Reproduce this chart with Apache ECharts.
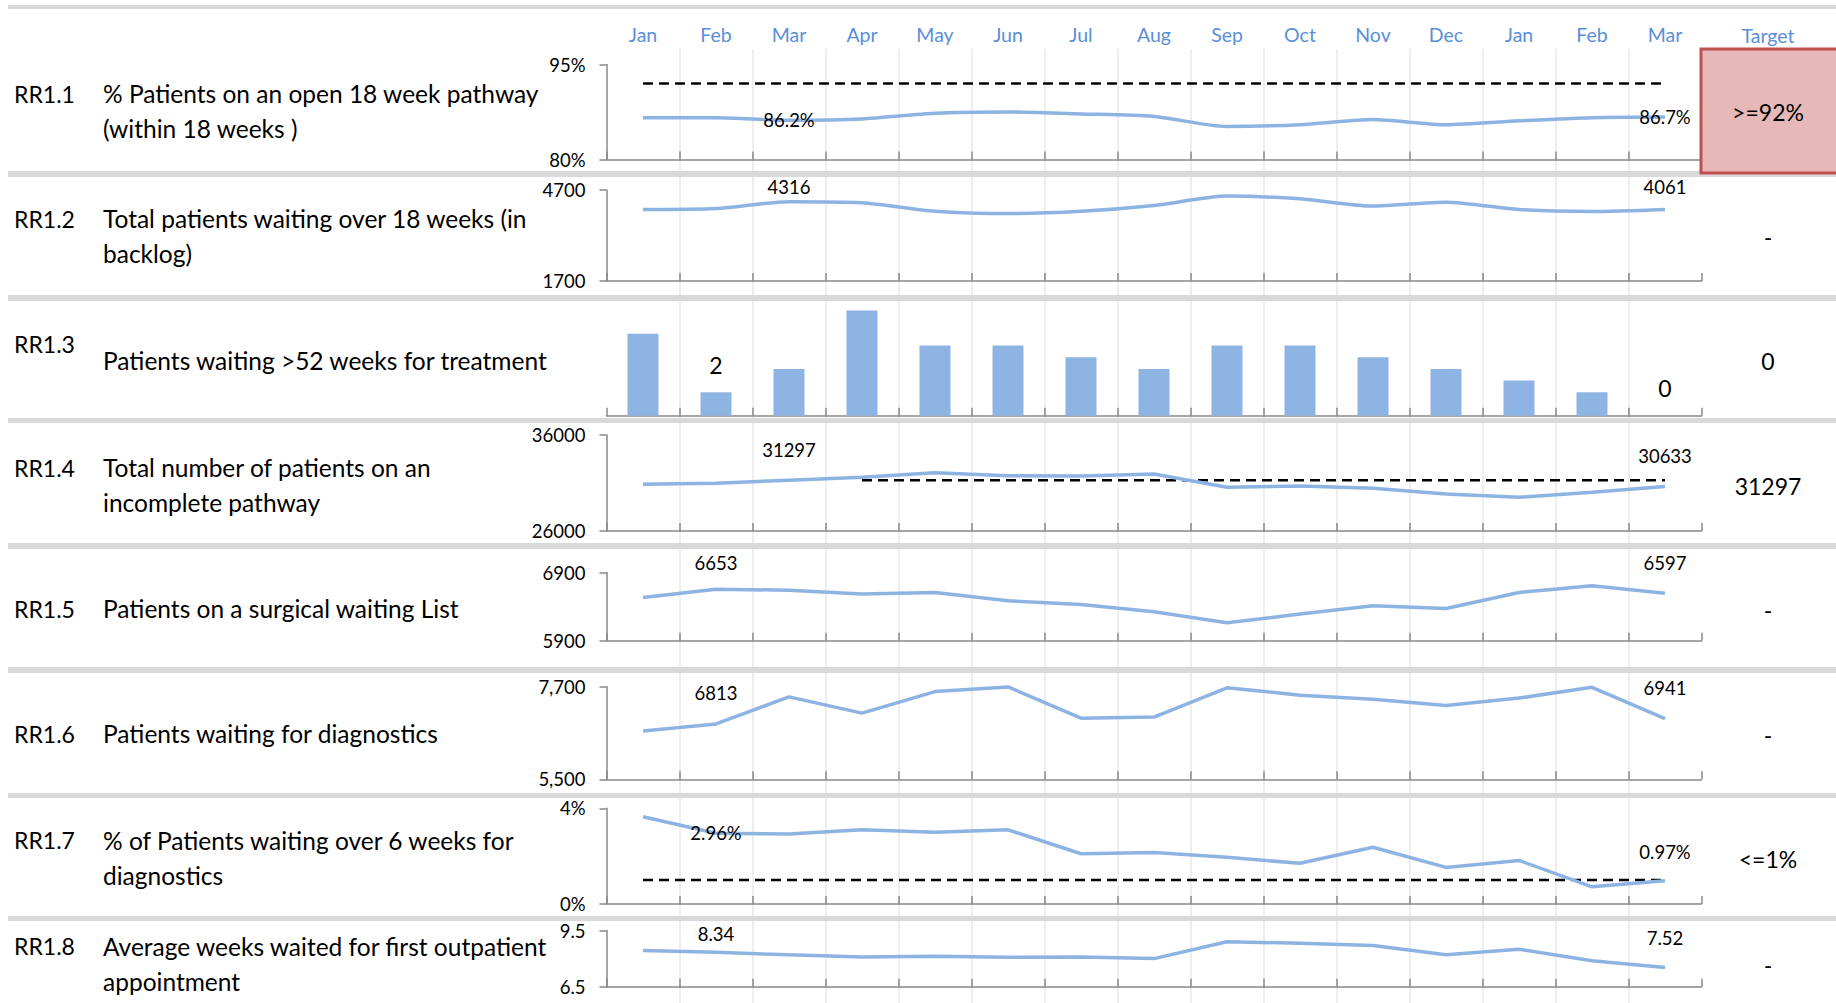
<!DOCTYPE html>
<html>
<head>
<meta charset="utf-8">
<title>Referral to treatment dashboard</title>
<script src="https://cdn.jsdelivr.net/npm/echarts@6/dist/echarts.min.js"></script>
<style>
  html, body { margin: 0; padding: 0; background: #ffffff; }
  #main { width: 1836px; height: 1003px; }
</style>
</head>
<body>
<div id="main"></div>
<script>
// ---- data ----
const months = ['Jan', 'Feb', 'Mar', 'Apr', 'May', 'Jun', 'Jul', 'Aug', 'Sep', 'Oct', 'Nov', 'Dec', 'Jan', 'Feb', 'Mar'];

const rowCodes = ['RR1.1', 'RR1.2', 'RR1.3', 'RR1.4', 'RR1.5', 'RR1.6', 'RR1.7', 'RR1.8'];
const rowTitles = [
  ['% Patients on an open 18 week pathway', '(within 18 weeks )'],
  ['Total patients waiting over 18 weeks (in', 'backlog)'],
  ['Patients waiting >52 weeks for treatment'],
  ['Total number of patients on an', 'incomplete pathway'],
  ['Patients on a surgical waiting List'],
  ['Patients waiting for diagnostics'],
  ['% of Patients waiting over 6 weeks for', 'diagnostics'],
  ['Average weeks waited for first outpatient', 'appointment']
];
const targetTexts = ['>=92%', '-', '0', '31297', '-', '-', '<=1%', '-'];

// RR1.1 % within 18 weeks (percent)
const rr11 = [86.6, 86.6, 86.2, 86.4, 87.3, 87.5, 87.2, 86.8, 85.2, 85.5, 86.3, 85.5, 86.1, 86.6, 86.7];
const rr11Target = [92, 92, 92, 92, 92, 92, 92, 92, 92, 92, 92, 92, 92, 92, 92];
const rr11Ticks = [80, 95];

// RR1.2 backlog over 18 weeks
const rr12 = [4056, 4090, 4316, 4280, 4000, 3925, 4000, 4190, 4500, 4410, 4170, 4300, 4055, 3990, 4061];
const rr12Ticks = [1700, 4700];

// RR1.3 waiting > 52 weeks
const rr13 = [7, 2, 4, 9, 6, 6, 5, 4, 6, 6, 5, 4, 3, 2, 0];
const rr13Range = [0, 10];

// RR1.4 incomplete pathway
const rr14 = [30860, 30965, 31297, 31590, 32075, 31765, 31730, 31935, 30550, 30690, 30445, 29855, 29505, 30030, 30633];
const rr14Target = [null, null, null, 31297, 31297, 31297, 31297, 31297, 31297, 31297, 31297, 31297, 31297, 31297, 31297];
const rr14Ticks = [26000, 36000];

// RR1.5 surgical waiting list
const rr15 = [6534, 6653, 6641, 6583, 6607, 6485, 6432, 6324, 6163, 6290, 6412, 6373, 6607, 6705, 6597];
const rr15Ticks = [5900, 6900];

// RR1.6 waiting for diagnostics
const rr16 = [6647, 6813, 7455, 7068, 7580, 7690, 6950, 6975, 7670, 7495, 7400, 7250, 7425, 7680, 6941];
const rr16Ticks = [5500, 7700];

// RR1.7 % waiting over 6 weeks for diagnostics (percent)
const rr17 = [3.65, 2.96, 2.93, 3.1, 3.0, 3.1, 2.1, 2.15, 1.95, 1.7, 2.37, 1.53, 1.82, 0.72, 0.97];
const rr17Target = [1, 1, 1, 1, 1, 1, 1, 1, 1, 1, 1, 1, 1, 1, 1];
const rr17Ticks = [0, 4];

// RR1.8 average weeks waited for first outpatient appointment
const rr18 = [8.43, 8.34, 8.2, 8.08, 8.12, 8.07, 8.09, 8.0, 8.9, 8.82, 8.7, 8.2, 8.5, 7.88, 7.52];
const rr18Ticks = [6.5, 9.5];

// ---- layout & style ----
const FONT = 'Lato';
const LINE_BLUE = '#8db3e2';
const BAR_BLUE = '#8eb4e3';
const AXIS_GREY = '#888888';
const BAND_GREY = '#d9d9d9';
const HEADER_BLUE = '#5a8fd8';
const PLOT_LEFT = 606.5;
const PLOT_WIDTH = 1095;

// plot band of each row, and the vertical middle of its text cell
const rowLayout = [
  { top: 64.5,  height: 95,   mid: 111 },
  { top: 190,   height: 91,   mid: 236 },
  { top: 298.7, height: 117,  mid: 360 },
  { top: 435,   height: 96,   mid: 485 },
  { top: 572.5, height: 68.2, mid: 608.5 },
  { top: 686.5, height: 92.8, mid: 733.5 },
  { top: 808.3, height: 95.7, mid: 857.5 },
  { top: 930.5, height: 56.2, mid: 963.5 }
];
// grey row separators
const bandTops = [5, 171, 295, 418, 543, 667, 793, 916];
const bandHeights = [4, 6, 6, 5, 6, 6, 5, 5];

const pct = v => v + '%';
const plain = v => String(v);
const comma = v => v.toLocaleString('en-US');
const oneDec = v => v.toFixed(1);

const grids = [];
const xAxes = [];
const yAxes = [];
const series = [];

function addRow(i, ticks, fmt, showY) {
  const r = rowLayout[i];
  grids.push({ left: PLOT_LEFT, width: PLOT_WIDTH, top: r.top, height: r.height, containLabel: false });
  xAxes.push({
    type: 'category', gridIndex: i, data: months, boundaryGap: true,
    axisLine: { show: true, onZero: false, lineStyle: { color: AXIS_GREY, width: 1.5 } },
    axisTick: { show: true, inside: true, length: 8, interval: 0, lineStyle: { color: AXIS_GREY, width: 1.5 } },
    axisLabel: { show: false },
    splitLine: { show: false }
  });
  yAxes.push({
    type: 'value', gridIndex: i, min: ticks[0], max: ticks[1], show: showY,
    axisLine: { show: true, lineStyle: { color: AXIS_GREY, width: 1.5 } },
    axisTick: { show: true, inside: false, length: 7, customValues: ticks.slice(), lineStyle: { color: AXIS_GREY, width: 1.5 } },
    axisLabel: {
      customValues: ticks.slice(), formatter: fmt, margin: 21,
      fontFamily: FONT, fontSize: 18.5, color: '#000'
    },
    splitLine: { show: false }
  });
}

// labelled points: index -> placement
function withLabels(values, marks) {
  return values.map((v, k) => {
    const m = marks.find(e => e.i === k);
    if (!m) return v;
    return {
      value: v,
      label: m.inside ? { show: true, position: 'inside' } : { show: true, position: 'top', distance: m.d }
    };
  });
}

function valueLine(i, values, marks, fmt, smooth) {
  series.push({
    type: 'line', xAxisIndex: i, yAxisIndex: i,
    data: withLabels(values, marks),
    symbol: 'circle', symbolSize: 2, showSymbol: true,
    itemStyle: { color: 'rgba(0,0,0,0)', borderWidth: 0 },
    smooth: smooth || false,
    lineStyle: { color: LINE_BLUE, width: 3.5 },
    label: { show: false, fontFamily: FONT, fontSize: 18.5, color: '#000', formatter: p => fmt(p.value) },
    z: 4
  });
}

function targetLine(i, values) {
  series.push({
    type: 'line', xAxisIndex: i, yAxisIndex: i, data: values,
    symbol: 'none', connectNulls: false,
    lineStyle: { color: '#000', width: 2.5, type: [10, 6] },
    z: 3
  });
}

addRow(0, rr11Ticks, pct, true);
addRow(1, rr12Ticks, plain, true);
addRow(2, rr13Range, plain, false);
addRow(3, rr14Ticks, plain, true);
addRow(4, rr15Ticks, plain, true);
addRow(5, rr16Ticks, comma, true);
addRow(6, rr17Ticks, pct, true);
addRow(7, rr18Ticks, oneDec, true);

targetLine(0, rr11Target);
valueLine(0, rr11, [{ i: 2, inside: true }, { i: 14, inside: true }], v => v.toFixed(1) + '%', 0.25);

valueLine(1, rr12, [{ i: 2, d: 4 }, { i: 14, d: 12 }], plain, 0.25);

series.push({
  type: 'bar', xAxisIndex: 2, yAxisIndex: 2,
  data: rr13.map((v, k) => (k === 1 || k === 14) ? { value: v, label: { show: true } } : v),
  barWidth: 31,
  itemStyle: { color: BAR_BLUE },
  label: { show: false, position: 'top', distance: 16, fontFamily: FONT, fontSize: 23, color: '#000' },
  z: 4
});

targetLine(3, rr14Target);
valueLine(3, rr14, [{ i: 2, d: 20 }, { i: 14, d: 20 }], plain);

valueLine(4, rr15, [{ i: 1, d: 16 }, { i: 14, d: 20 }], plain);

valueLine(5, rr16, [{ i: 1, d: 20 }, { i: 14, d: 20 }], plain);

targetLine(6, rr17Target);
valueLine(6, rr17, [{ i: 1, inside: true }, { i: 14, d: 18 }], v => v.toFixed(2) + '%');

valueLine(7, rr18, [{ i: 1, d: 8 }, { i: 14, d: 19 }], v => v.toFixed(2));

// month header and the light vertical rules that run down the whole sheet
grids.push({ left: PLOT_LEFT, width: PLOT_WIDTH, top: 49, bottom: 0, containLabel: false });
xAxes.push({
  type: 'category', gridIndex: 8, position: 'top', data: months, boundaryGap: true,
  axisLine: { show: false }, axisTick: { show: false },
  axisLabel: { interval: 0, color: HEADER_BLUE, fontFamily: FONT, fontSize: 19.5, margin: 5 },
  splitLine: { show: true, interval: 0, showMinLine: false, showMaxLine: false, lineStyle: { color: '#eeeeee', width: 2 } },
  z: 0
});
yAxes.push({ type: 'value', gridIndex: 8, show: false });

// ---- sheet decoration: separators, target cell, row text ----
const graphics = [];
bandTops.forEach((t, k) => {
  graphics.push({
    type: 'rect', z: 20, silent: true,
    shape: { x: 8, y: t, width: 1828, height: bandHeights[k] },
    style: { fill: BAND_GREY }
  });
});
graphics.push({
  type: 'rect', z: 21, silent: true,
  shape: { x: 1701, y: 49, width: 140, height: 124 },
  style: { fill: '#e6b9b8', stroke: '#c0504d', lineWidth: 3 }
});
graphics.push({
  type: 'text', z: 22, x: 1768, y: 35,
  style: { text: 'Target', fill: HEADER_BLUE, fontFamily: FONT, fontSize: 19.5, align: 'center', verticalAlign: 'middle' }
});

rowLayout.forEach((r, k) => {
  const lines = rowTitles[k];
  const codeY = k === 2 ? 344 : (lines.length === 2 ? r.mid - 17.5 : r.mid);
  graphics.push({
    type: 'text', z: 22, x: 14, y: codeY,
    style: { text: rowCodes[k], fill: '#000', fontFamily: FONT, fontSize: 23, align: 'left', verticalAlign: 'middle' }
  });
  graphics.push({
    type: 'text', z: 22, x: 103, y: r.mid,
    style: { text: lines.join('\n'), fill: '#000', fontFamily: FONT, fontSize: 24.5, lineHeight: 35, align: 'left', verticalAlign: 'middle' }
  });
  graphics.push({
    type: 'text', z: 22, x: 1768, y: r.mid + 1,
    style: { text: targetTexts[k], fill: '#000', fontFamily: FONT, fontSize: 23, align: 'center', verticalAlign: 'middle' }
  });
});

const chart = echarts.init(document.getElementById('main'), null, { renderer: 'svg', width: 1836, height: 1003 });
chart.setOption({
  backgroundColor: '#ffffff',
  animation: false,
  textStyle: { fontFamily: FONT },
  grid: grids,
  xAxis: xAxes,
  yAxis: yAxes,
  series: series,
  graphic: graphics
});
</script>
</body>
</html>
